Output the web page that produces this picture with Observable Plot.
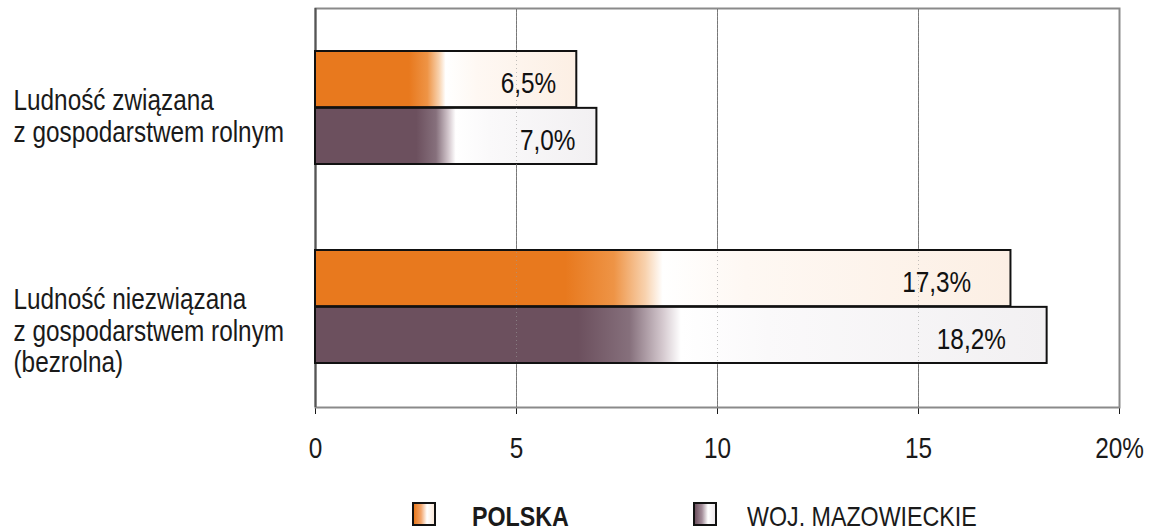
<!DOCTYPE html>
<html>
<head>
<meta charset="utf-8">
<script src="https://cdn.jsdelivr.net/npm/d3@7"></script>
<script src="https://cdn.jsdelivr.net/npm/@observablehq/plot@0.6"></script>
<style>
  body { margin: 0; background: #fff; }
  #wrap { position: relative; width: 1160px; height: 532px; background: #fff;
    font-family: "Liberation Sans", Arial, sans-serif; color: #1a1a1a; }
  #wrap svg { position: absolute; left: 0; top: 0; }
  .sw { position: absolute; width: 20px; height: 20px; border: 2px solid #111; }
  .lt { position: absolute; font-size: 28px; line-height: 28px; white-space: nowrap;
        transform: scaleX(0.83); transform-origin: 0 0; }
</style>
</head>
<body>
<div id="wrap"></div>
<script>
// ---- data ----
const categories = [
  "Ludność związana\nz gospodarstwem rolnym",
  "Ludność niezwiązana\nz gospodarstwem rolnym\n(bezrolna)"
];
const seriesNames = ["POLSKA", "WOJ. MAZOWIECKIE"];
const polskaValues = [6.5, 17.3];
const mazowieckieValues = [7.0, 18.2];
const xTicks = [0, 5, 10, 15, 20];
const xTickLabels = ["0", "5", "10", "15", "20%"];

const fmt = v => v.toFixed(1).replace(".", ",") + "%";
const polskaRows = categories.map((c, i) => ({category: c, series: seriesNames[0], value: polskaValues[i], label: fmt(polskaValues[i])}));
const mazRows = categories.map((c, i) => ({category: c, series: seriesNames[1], value: mazowieckieValues[i], label: fmt(mazowieckieValues[i])}));

// ---- layout ----
const W = 1160, H = 490, mt = 8, mb = 83, ml = 315, mr = 41;
const pi = 0.43, po = 0.215;
const innerH = H - mt - mb;
const step = innerH / (categories.length - pi + 2 * po);
const half = step * (1 - pi) / 2;
const FONT = '"Liberation Sans", Arial, sans-serif';
const SQUEEZE = 0.84; // condensed look
const labelX = d => d.value * 0.956 - 0.226; // label sits inside the bar end

const chart = Plot.plot({
  width: W, height: H,
  marginLeft: ml, marginRight: mr, marginTop: mt, marginBottom: mb,
  style: {fontFamily: FONT, fontSize: "29px", color: "#1a1a1a", background: "transparent", overflow: "visible"},
  x: {domain: [0, 20], ticks: xTicks, tickFormat: d => xTickLabels[xTicks.indexOf(d)],
      tickSize: 7, tickPadding: 23, line: true, label: null},
  y: {domain: categories, paddingInner: pi, paddingOuter: po, axis: null},
  marks: [
    Plot.frame({stroke: "#8a8a8a", strokeWidth: 2}),
    Plot.ruleX(xTicks.slice(1, -1), {stroke: "#777", strokeWidth: 1}),
    Plot.ruleX([0], {stroke: "#555", strokeWidth: 2}),
    Plot.barX(polskaRows, {x: "value", y: "category", insetBottom: half, fill: "url(#gPL)", stroke: "#111", strokeWidth: 2}),
    Plot.barX(mazRows, {x: "value", y: "category", insetTop: half, fill: "url(#gMZ)", stroke: "#111", strokeWidth: 2}),
    Plot.ruleX(xTicks.slice(1, -1), {stroke: "#999", strokeOpacity: 0.6, strokeDasharray: "1,3"}),
    Plot.text(polskaRows, {x: labelX, y: "category", text: "label", textAnchor: "end", dy: -half / 2 + 4, fontSize: 29, fill: "#111"}),
    Plot.text(mazRows, {x: labelX, y: "category", text: "label", textAnchor: "end", dy: half / 2 + 4, fontSize: 29, fill: "#111"}),
    Plot.text(categories, {y: d => d, text: d => d, frameAnchor: "left", textAnchor: "start", dx: -302,
      lineAnchor: "top", dy: -20, lineHeight: 1.08, fontSize: 29, fill: "#1a1a1a"})
  ]
});

// condense all svg text horizontally around its anchor point
d3.select(chart).selectAll("text").each(function () {
  const t = this.getAttribute("transform") || "";
  this.setAttribute("transform", (t + ` scale(${SQUEEZE},1)`).trim());
});

// gradients
const defs = d3.select(chart).insert("defs", ":first-child");
function grad(id, stops) {
  const g = defs.append("linearGradient").attr("id", id).attr("x1", "0").attr("x2", "1").attr("y1", "0").attr("y2", "0");
  stops.forEach(([o, c]) => g.append("stop").attr("offset", o).attr("stop-color", c));
}
grad("gPL", [[0, "#E8791E"], [0.36, "#E8791E"], [0.43, "#EE9446"], [0.475, "#F8D2AE"], [0.5, "#FFFFFF"], [0.62, "#FEF8F3"], [1, "#FCEFE4"]]);
grad("gMZ", [[0, "#6C505E"], [0.36, "#6C505E"], [0.43, "#86707C"], [0.475, "#D4C8CE"], [0.5, "#FFFFFF"], [0.62, "#FAF9FA"], [1, "#F2F0F2"]]);

const wrap = document.getElementById("wrap");
wrap.appendChild(chart);

// legend
const legendItems = [
  {name: seriesNames[0], bg: "linear-gradient(90deg,#E8791E 0%,#F2A46A 35%,#FFFFFF 65%,#FBE9DA 100%)", bold: true, sx: 412, tx: 472},
  {name: seriesNames[1], bg: "linear-gradient(90deg,#6C505E 0%,#A48E9A 35%,#FFFFFF 65%,#EDE8EB 100%)", bold: false, sx: 693, tx: 747}
];
legendItems.forEach(it => {
  const s = document.createElement("div");
  s.className = "sw";
  s.style.left = it.sx + "px"; s.style.top = "502px"; s.style.background = it.bg;
  wrap.appendChild(s);
  const t = document.createElement("div");
  t.className = "lt";
  t.textContent = it.name;
  t.style.left = it.tx + "px"; t.style.top = "503px";
  t.style.fontWeight = it.bold ? "bold" : "normal";
  wrap.appendChild(t);
});
</script>
</body>
</html>
